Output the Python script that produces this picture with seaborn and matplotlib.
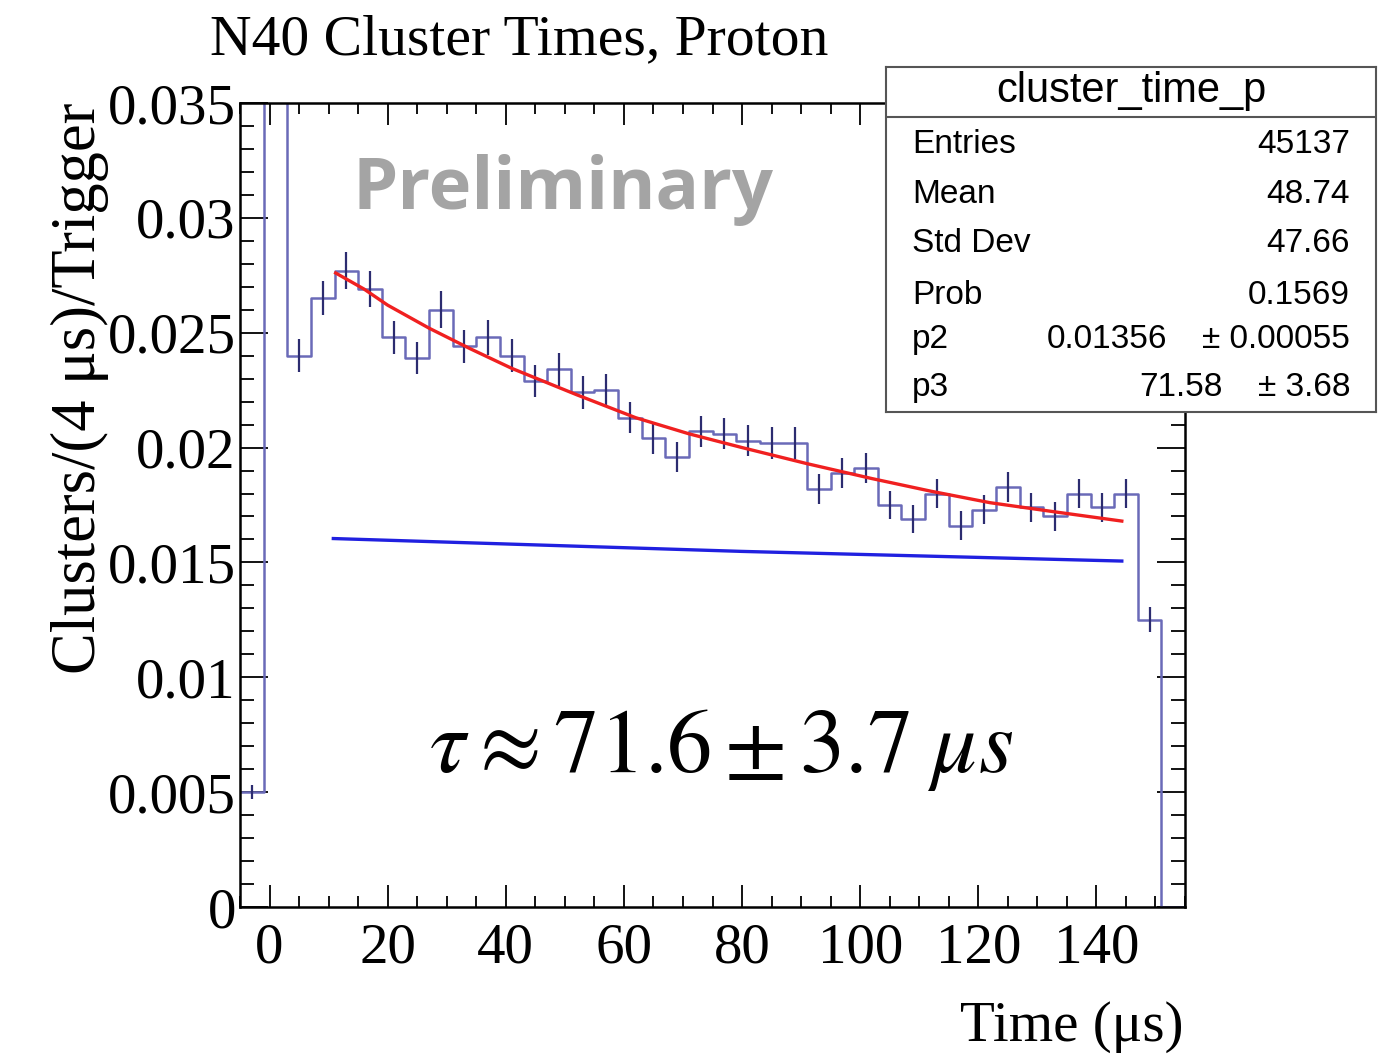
import numpy as np
import pandas as pd
import matplotlib
matplotlib.use("Agg")
import matplotlib.pyplot as plt
import seaborn as sns
from matplotlib.ticker import MultipleLocator, FuncFormatter

# histogram: 4 us bins from -5 to 155 us
bin_left = np.arange(-5, 155, 4)
bin_width = 4
counts = [0.0050, 0.0600, 0.0240, 0.0265, 0.0277, 0.0269, 0.0248, 0.0239, 0.0260, 0.0244,
          0.0248, 0.0240, 0.0229, 0.0234, 0.0224, 0.0225, 0.0213, 0.0204, 0.0196, 0.0207,
          0.0206, 0.0203, 0.0202, 0.0202, 0.0182, 0.0189, 0.0191, 0.0175, 0.0169, 0.0180,
          0.0166, 0.0173, 0.0183, 0.0174, 0.0170, 0.0180, 0.0174, 0.0180, 0.0125, 0.0]
errors = [0.0003, np.nan, 0.00072, 0.00075, 0.0008, 0.00078, 0.00072, 0.0007, 0.0008, 0.00072,
          0.00075, 0.00072, 0.0007, 0.00072, 0.0007, 0.0007, 0.00068, 0.00068, 0.00065, 0.00068,
          0.00068, 0.00068, 0.00068, 0.00068, 0.00065, 0.00065, 0.00065, 0.00062, 0.00062, 0.00065,
          0.00062, 0.00062, 0.00065, 0.00062, 0.00062, 0.00065, 0.00062, 0.00065, 0.00055, np.nan]

# fit curve (red) and background (blue)
fit_t = [11.2, 16, 20, 27, 34, 41, 52, 62, 71, 80, 91, 102, 112, 122, 133, 144.3]
fit_v = [0.0276, 0.0269, 0.0262, 0.0252, 0.0243, 0.02345, 0.0223, 0.0213, 0.0206, 0.0200,
         0.0193, 0.01865, 0.0181, 0.0176, 0.0172, 0.0168]
bkg_t = [10.8, 80, 144.3]
bkg_v = [0.01604, 0.01548, 0.01506]

stats = [("Entries", "45137", ""), ("Mean", "48.74", ""), ("Std Dev", "47.66", ""),
         ("Prob", "0.1569", ""), ("p2", "0.01356", "\u00b1 0.00055"), ("p3", "71.58", "\u00b1 3.68")]

df = pd.DataFrame({"t": bin_left + bin_width / 2, "w": counts, "err": errors})

plt.rcParams["font.family"] = ["Liberation Serif", "DejaVu Serif"]
plt.rcParams["mathtext.fontset"] = "stix"

fig = plt.figure(figsize=(13.95, 10.63), dpi=100)
ax = fig.add_axes([240 / 1395, 1 - 907 / 1063, 945 / 1395, 804 / 1063])

sns.histplot(data=df, x="t", weights="w", binwidth=bin_width, binrange=(-5, 155),
             element="step", fill=False, color="#6a6ab8", linewidth=1.8, ax=ax)
ax.errorbar(df["t"], df["w"], yerr=df["err"], fmt="none", ecolor="#2c2c70",
            elinewidth=1.6, capsize=0)
sns.lineplot(x=fit_t, y=fit_v, color="#f02020", linewidth=2.4, ax=ax)
sns.lineplot(x=bkg_t, y=bkg_v, color="#2020e0", linewidth=2.4, ax=ax)

ax.set_xlim(-5, 155)
ax.set_ylim(0, 0.035)
ax.set_xlabel("")
ax.set_ylabel("")
ax.xaxis.set_major_locator(MultipleLocator(20))
ax.xaxis.set_minor_locator(MultipleLocator(5))
ax.yaxis.set_major_locator(MultipleLocator(0.005))
ax.yaxis.set_minor_locator(MultipleLocator(0.001))
ax.yaxis.set_major_formatter(FuncFormatter(lambda v, p: "%g" % round(v, 4)))
ax.tick_params(axis="both", which="both", direction="in", top=True, right=True,
               width=1.3, labelsize=41)
ax.tick_params(axis="x", which="major", length=16, pad=11)
ax.tick_params(axis="x", which="minor", length=8)
ax.tick_params(axis="y", which="major", length=20, pad=3)
ax.tick_params(axis="y", which="minor", length=10)
for s in ax.spines.values():
    s.set_linewidth(1.8)

fig.text(210 / 1395, 1 - 40 / 1063, "N40 Cluster Times, Proton", fontsize=41.5,
         ha="left", va="center")
fig.text(80 / 1395, 1 - 388 / 1063, "Clusters/(4 \u03bcs)/Trigger", fontsize=45,
         rotation=90, ha="center", va="center")
fig.text(1183 / 1395, 1 - 1027 / 1063, "Time (\u03bcs)", fontsize=41,
         ha="right", va="center")

ax.text(352 / 1395, 1 - 190 / 1063, "Preliminary", transform=fig.transFigure,
        fontsize=52, fontweight="bold", family="Open Sans", color="#a4a4a4",
        ha="left", va="center")
fig.text(721 / 1395, 1 - 750 / 1063, r"$\tau \approx 71.6 \pm 3.7\;\mu s$",
         fontsize=65, ha="center", va="center")

# stats box
box = fig.add_axes([886 / 1395, 1 - 412 / 1063, 490 / 1395, 345 / 1063], zorder=5)
box.set_facecolor("white")
box.set_xticks([])
box.set_yticks([])
for s in box.spines.values():
    s.set_color("#555555")
    s.set_linewidth(1.5)
box.set_xlim(0, 1)
box.set_ylim(0, 1)
box.axhline(0.855, color="#555555", linewidth=1.5)
box.text(0.5, 0.93, "cluster_time_p", family="Liberation Sans", fontsize=30,
         ha="center", va="center")
row_y = [0.774, 0.629, 0.487, 0.339, 0.209, 0.072]
for (name, val, err), yy in zip(stats, row_y):
    box.text(0.053, yy, name, family="Liberation Sans", fontsize=24, ha="left", va="center")
    if err:
        xv = 0.573 if name == "p2" else 0.686
        box.text(xv, yy, val, family="Liberation Sans", fontsize=24, ha="right", va="center")
        box.text(0.947, yy, err, family="Liberation Sans", fontsize=24, ha="right", va="center")
    else:
        box.text(0.947, yy, val, family="Liberation Sans", fontsize=24, ha="right", va="center")

fig.savefig("out.png", dpi=100)
